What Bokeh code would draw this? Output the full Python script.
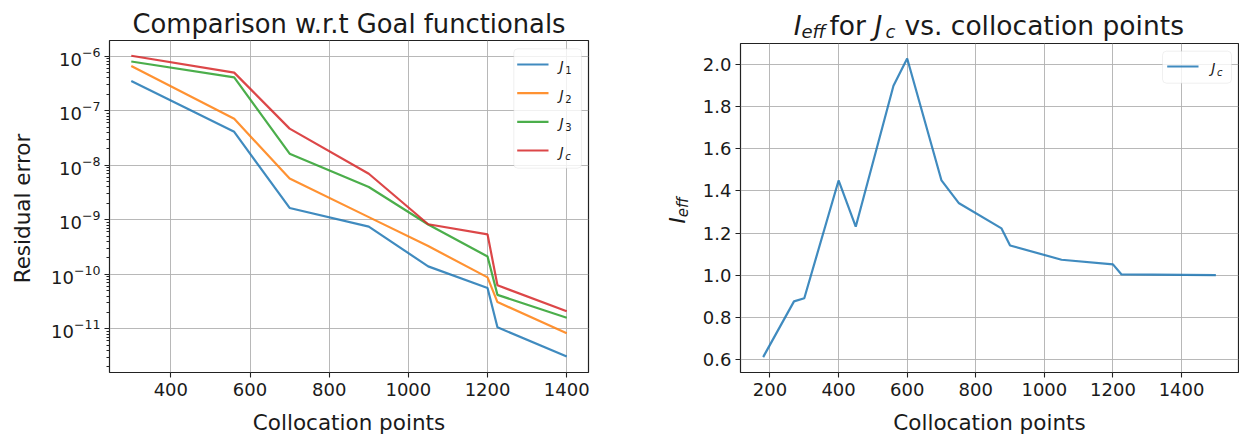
import math
from bokeh.plotting import figure
from bokeh.layouts import row, column
from bokeh.models import Label, BoxAnnotation, FixedTicker, PrintfTickFormatter, Range1d
from bokeh.embed import file_html
from bokeh.resources import INLINE

# ---------------- data ----------------
points = [300, 560, 700, 900, 1050, 1200, 1225, 1400]
J1 = [3.5e-7, 4.1e-8, 1.65e-9, 7.5e-10, 1.4e-10, 5.6e-11, 1.07e-11, 3.1e-12]
J2 = [6.6e-7, 7.1e-8, 5.7e-9, 1.12e-9, 3.3e-10, 8.8e-11, 3.1e-11, 8.3e-12]
J3 = [8.0e-7, 4.1e-7, 1.63e-8, 4.0e-9, 8.2e-10, 2.12e-10, 4.2e-11, 1.6e-11]
Jc = [1.02e-6, 5.0e-7, 4.7e-8, 7.0e-9, 8.3e-10, 5.4e-10, 6.3e-11, 2.1e-11]

eff_points = [180, 270, 300, 400, 450, 560, 600, 700, 750, 875, 900, 1050, 1200, 1225, 1500]
eff_Jc = [0.61, 0.875, 0.89, 1.45, 1.23, 1.90, 2.03, 1.45, 1.343, 1.222, 1.141, 1.073, 1.051, 1.003, 1.0]

left_xticks = [400, 600, 800, 1000, 1200, 1400]
left_yexps = [-11, -10, -9, -8, -7, -6]
right_xticks = [200, 400, 600, 800, 1000, 1200, 1400]
right_yticks = [0.6, 0.8, 1.0, 1.2, 1.4, 1.6, 1.8, 2.0]

series_names = ["1", "2", "3", "c"]
colors = ["#1f77b4", "#ff7f0e", "#2ca02c", "#d62728"]

FONT = "DejaVu Sans"
TXT = "#1a1a1a"
MID = 0.3      # text middle above the alphabetic baseline, in em


def style(p):
    p.outline_line_color = "#222222"
    p.outline_line_width = 1.2
    p.background_fill_color = "white"
    p.border_fill_color = "white"
    for ax in p.axis:
        ax.axis_line_color = None
        ax.major_tick_line_color = "#222222"
        ax.major_tick_line_width = 1.1
        ax.major_tick_out = 5
        ax.major_tick_in = 0
        ax.minor_tick_line_color = None
        ax.major_label_text_font = FONT
        ax.major_label_text_font_size = "18px"
        ax.major_label_text_color = TXT
        ax.axis_label = None
    p.xaxis.major_label_standoff = 5
    for g in p.grid:
        g.grid_line_color = "#b0b0b0"
        g.grid_line_width = 1
        g.grid_line_alpha = 0.9


def lab(p, text, x, y_base, size, italic=False, align="left", level="overlay"):
    # x from frame left; y_base: alphabetic baseline, up from frame bottom (pixels)
    px = float(size.replace("px", ""))
    y = y_base + MID * px
    p.add_layout(Label(x=x, y=y, x_units="screen", y_units="screen", text=text,
                       text_font=FONT, text_font_size=size,
                       text_font_style="italic" if italic else "normal",
                       text_color=TXT, text_align=align, text_baseline="middle",
                       level=level))


def vlab(p, text, x_mid, y, size, italic=False, align="left"):
    # rotated (reads bottom to top); x_mid: centre of the text line
    p.add_layout(Label(x=x_mid, y=y, x_units="screen", y_units="screen", text=text,
                       text_font=FONT, text_font_size=size,
                       text_font_style="italic" if italic else "normal",
                       text_color=TXT, text_align=align, text_baseline="middle",
                       angle=math.pi / 2, level="overlay"))


def text_fig(w, h):
    f = figure(frame_width=w, frame_height=h, min_border=0, x_range=Range1d(0, w),
               y_range=Range1d(0, h), x_axis_type=None, y_axis_type=None,
               toolbar_location=None, output_backend="svg", title=None)
    f.outline_line_color = None
    f.background_fill_color = "white"
    f.border_fill_color = "white"
    for g in f.grid:
        g.visible = False
    return f


def legend(p, box, entries):
    l, r, t, b = box
    p.add_layout(BoxAnnotation(left=l, right=r, top=t, bottom=b,
                               left_units="screen", right_units="screen",
                               top_units="screen", bottom_units="screen",
                               fill_color="white", fill_alpha=0.8,
                               line_color="#cccccc", line_width=1, border_radius=4,
                               level="annotation"))
    for (sx0, sx1, sy, tx, col, sub) in entries:
        p.add_layout(BoxAnnotation(left=sx0, right=sx1, top=sy + 1.1, bottom=sy - 1.1,
                                   left_units="screen", right_units="screen",
                                   top_units="screen", bottom_units="screen",
                                   fill_color=col, fill_alpha=0.85, line_color=None,
                                   level="overlay"))
        lab(p, "J", tx, sy - 5.5, "14px", italic=True)
        lab(p, sub, tx + 5.8, sy - 8.5, "10px", italic=(sub == "c"))


TOTAL_H = 436

# ================= left panel =================
FW1, FH1 = 479, 332
p1 = figure(frame_width=FW1, frame_height=FH1, y_axis_type="log",
            x_range=Range1d(245, 1455), y_range=Range1d(10 ** -11.8, 10 ** -5.712),
            min_border_left=73, min_border_right=10, min_border_top=1, min_border_bottom=33,
            toolbar_location=None, output_backend="svg", title=None)
style(p1)
p1.xaxis.ticker = FixedTicker(ticks=left_xticks)
p1.yaxis.ticker = FixedTicker(ticks=[10.0 ** e for e in left_yexps],
                              minor_ticks=[m * 10.0 ** e for e in range(-12, -5) for m in range(2, 10)])
p1.yaxis.minor_tick_line_color = "#222222"
p1.yaxis.minor_tick_out = 3
p1.yaxis.minor_tick_in = 0
p1.yaxis.major_label_standoff = 4

for ys, col in zip([J1, J2, J3, Jc], colors):
    p1.line(points, ys, line_color=col, line_width=2.2, line_alpha=0.85)

sw_y = [308, 279.3, 250.7, 222]
legend(p1, (404.3, 472, 323.7, 204.3),
       [(407.7, 439, sy, 450, c, s) for sy, c, s in zip(sw_y, colors, series_names)])

YW1 = 36
W1 = 73 + FW1 + 10          # 562
H1 = 1 + FH1 + 33           # 366
TH1 = 39
t1 = text_fig(YW1 + W1, TH1)
lab(t1, "Comparison w.r.t Goal functionals", 348.5, TH1 - 31.7, "25.8px", align="center")
y1 = text_fig(YW1, H1)
vlab(y1, "Residual error", 22, H1 - (207 - TH1), "21.5px", align="center")
XH1 = TOTAL_H - TH1 - H1    # 31
x1 = text_fig(YW1 + W1, XH1)
lab(x1, "Collocation points", 348.5, 436 - 428, "21.5px", align="center")

left = column(t1, row(y1, p1, spacing=0), x1, spacing=0)

# ================= right panel =================
FW2, FH2 = 498, 329
p2 = figure(frame_width=FW2, frame_height=FH2,
            x_range=Range1d(114, 1566), y_range=Range1d(0.537, 2.101),
            min_border_left=46, min_border_right=1, min_border_top=1, min_border_bottom=33,
            toolbar_location=None, output_backend="svg", title=None)
style(p2)
p2.xaxis.ticker = FixedTicker(ticks=right_xticks)
p2.yaxis.ticker = FixedTicker(ticks=right_yticks)
p2.yaxis.formatter = PrintfTickFormatter(format="%.1f")
p2.yaxis.major_label_standoff = 4

p2.line(eff_points, eff_Jc, line_color=colors[0], line_width=2.2, line_alpha=0.85)

legend(p2, (422, 491, 321.3, 289.3), [(426.7, 458, 306, 470.7, colors[0], "c")])

X0 = 598                     # page x where the right panel starts
YW2 = 96
W2 = 46 + FW2 + 1            # 545
H2 = 1 + FH2 + 33            # 363
TH2 = 42
t2 = text_fig(YW2 + W2, TH2)
tb = TH2 - 33.3              # main baseline
sb = TH2 - 36.8              # subscript baseline
lab(t2, "I", 793.3 - X0, tb, "26.5px", italic=True)
lab(t2, "eff", 801 - X0, sb, "18px", italic=True)
lab(t2, "for", 829 - X0, tb, "26.5px")
lab(t2, "J", 874 - X0, tb, "26.5px", italic=True)
lab(t2, "c", 885 - X0, sb, "18px", italic=True)
lab(t2, "vs. collocation points", 904 - X0, tb, "26.5px")

y2 = text_fig(YW2, H2)
ystart = H2 - (222 - TH2)
vlab(y2, "I", 676.5 - X0, ystart, "21.5px", italic=True)
vlab(y2, "eff", 682.5 - X0, ystart + 6.3, "15px", italic=True)

XH2 = TOTAL_H - TH2 - H2     # 31
x2 = text_fig(YW2 + W2, XH2)
lab(x2, "Collocation points", 989 - X0, 436 - 428, "21.5px", align="center")

right = column(t2, row(y2, p2, spacing=0), x2, spacing=0)

layout = row(left, right, spacing=0)
open("out.html", "w").write(file_html(layout, INLINE))
